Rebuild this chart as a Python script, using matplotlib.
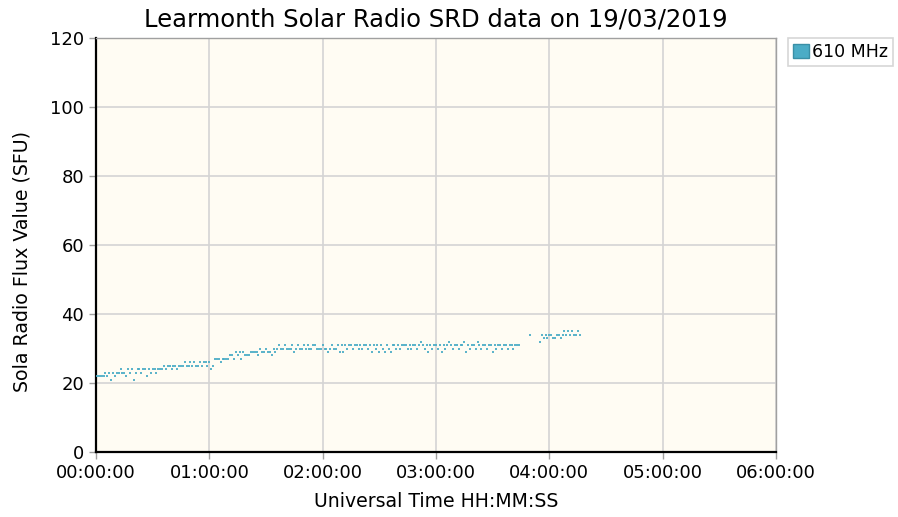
import matplotlib
matplotlib.use("Agg")
import matplotlib.pyplot as plt
import matplotlib.patches as mpatches
from matplotlib.ticker import FuncFormatter, MultipleLocator
import numpy as np

# 610 MHz flux, one reading per minute, grouped in runs with their start time
run_starts = ["00:00", "03:50", "03:55"]

flux_run1 = [
    22, 22, 22, 22, 22,
    23, 22, 23, 21, 23, 22, 23, 23,
    24, 23, 23, 22, 24, 23, 24, 21, 23,
    24, 24, 23, 24, 24, 22, 24, 23, 24, 24, 23, 24, 24,
    24, 25, 24, 25, 25, 24, 25, 25, 24, 25, 25,
    25, 26, 25, 25, 26, 25, 26, 25, 25, 26, 25, 26, 26, 25,
    26, 24, 25, 27,
    27, 27, 26, 27, 27, 27, 27,
    28, 28, 27, 29, 28, 29, 27, 29, 28, 28, 28, 29,
    29, 29, 29, 28, 30, 29, 29, 30, 29, 29, 28, 30, 29,
    30, 31, 30, 30, 31, 30, 30, 30, 31, 29,
    30, 31, 30, 30, 31, 30, 31, 30, 30, 31,
    31, 30, 30, 30, 31, 30, 30, 29, 30, 31,
    30, 30, 31, 29,
    31, 29, 31, 30, 31, 31, 30, 31, 31, 30,
    31, 30, 31, 31, 30, 31, 29, 31, 30, 31,
    29, 31, 30, 29, 31, 30, 29, 31, 31, 30,
    31, 30, 31, 31, 31, 30, 31, 30, 31, 31,
    30, 31, 32, 31, 30, 31, 29, 31, 30, 31,
    31, 30, 31, 29, 31, 30, 31, 32, 31, 30,
    31, 31, 30, 31, 31, 32, 29, 31, 30, 31,
    31, 30, 32, 31, 30, 31, 31, 30, 31, 31,
    29, 31, 30, 31, 31, 30, 31, 31, 30, 31,
    31, 30, 31, 31, 31,
]
flux_run2 = [34]
flux_run3 = [32, 34, 33, 34, 33, 34, 34, 33, 33, 34, 34, 33,
             34, 35, 34, 35, 34, 35, 34, 34, 35, 34]

series_label = "610 MHz"
colour = "#4bacc6"

hours, flux = [], []
for start, vals in zip(run_starts, [flux_run1, flux_run2, flux_run3]):
    h, m = map(int, start.split(":"))
    t0 = h * 60 + m
    for i, v in enumerate(vals):
        hours.append((t0 + i) / 60.0)
        flux.append(v)
hours = np.array(hours)
flux = np.array(flux)

fig = plt.figure(figsize=(8.98, 5.17), dpi=100)
ax = fig.add_axes([96 / 898, 1 - 452 / 517, 680 / 898, 414 / 517])
ax.set_facecolor("#fffcf3")

ax.plot(hours, flux, "s", color=colour, markersize=2.0, markeredgewidth=0,
        alpha=0.9, zorder=3)

ax.set_xlim(0, 6)
ax.set_ylim(0, 120)
ax.xaxis.set_major_locator(MultipleLocator(1))
ax.yaxis.set_major_locator(MultipleLocator(20))
ax.xaxis.set_major_formatter(FuncFormatter(lambda x, p: "%02d:00:00" % int(round(x))))

ax.grid(True, color="#d4d4d4", linewidth=1.2)
ax.set_axisbelow(True)

for side in ("left", "bottom"):
    ax.spines[side].set_color("black")
    ax.spines[side].set_linewidth(1.6)
for side in ("top", "right"):
    ax.spines[side].set_color("#a0a0a0")
    ax.spines[side].set_linewidth(1.0)

ax.tick_params(axis="both", colors="#a0a0a0", labelcolor="black", labelsize=13,
               length=5, width=1)

ax.set_title("Learmonth Solar Radio SRD data on 19/03/2019", fontsize=17.5, pad=8)
ax.set_xlabel("Universal Time HH:MM:SS", fontsize=13.6, labelpad=7)
ax.set_ylabel("Sola Radio Flux Value (SFU)", fontsize=13.7)
ax.yaxis.set_label_coords(-0.095, 0.461)

handle = mpatches.Patch(facecolor=colour, edgecolor="#3a8fa6", label=series_label)
leg = ax.legend(handles=[handle], loc="upper left", bbox_to_anchor=(1.018, 1.0),
                fontsize=12.5, frameon=True, fancybox=False, handlelength=0.9,
                handleheight=0.9, handletextpad=0.15, borderpad=0.3,
                borderaxespad=0)
leg.get_frame().set_edgecolor("#cccccc")
leg.get_frame().set_linewidth(1.2)

fig.savefig("out.png", dpi=100)
